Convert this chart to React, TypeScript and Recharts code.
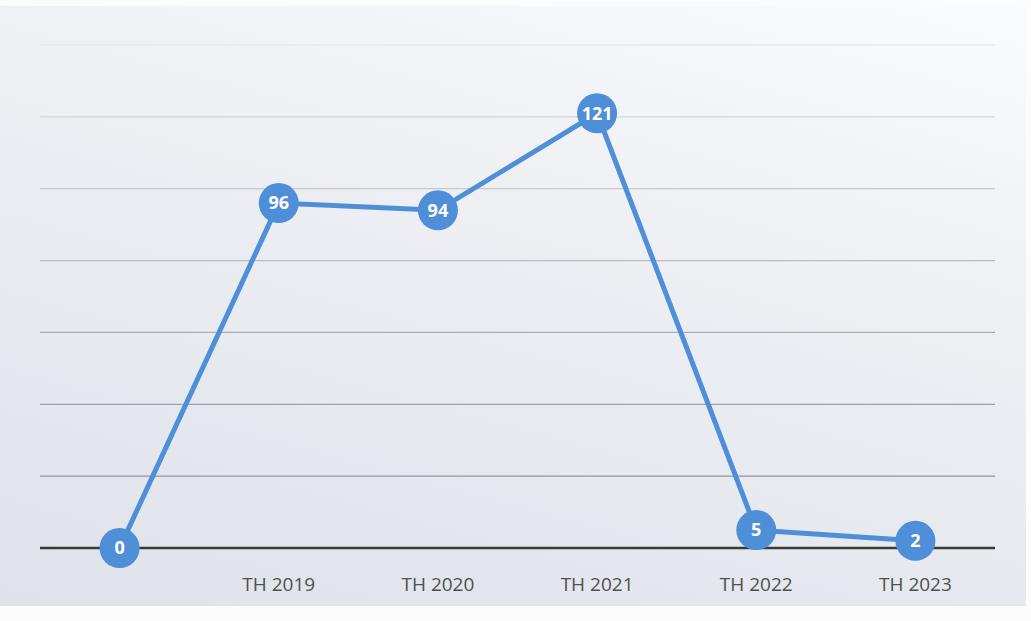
import { LineChart, Line, XAxis, YAxis, CartesianGrid, LabelList } from 'recharts'

const LINE = '#4e8fd8'

const years = ['', 'TH 2019', 'TH 2020', 'TH 2021', 'TH 2022', 'TH 2023']
const counts = [0, 96, 94, 121, 5, 2]
const yTicks = [0, 20, 40, 60, 80, 100, 120, 140]

const data = years.map((y, i) => ({ year: y, value: counts[i] }))

function Dot({ cx, cy }: { cx?: number; cy?: number }) {
  if (cx == null || cy == null) return null
  return <circle cx={cx} cy={cy} r={20} fill={LINE} />
}

export default function App() {
  return (
    <div style={{ position: 'absolute', left: 0, top: 0, width: 1031, height: 621, background: '#fcfcfd' }}>
      <div style={{ position: 'absolute', left: 0, top: 6, width: 1026, height: 600,
        background: 'linear-gradient(195deg, #fafbfc 0%, #eef0f4 35%, #e4e7ed 75%, #dfe2e9 100%)' }} />
      <div style={{ position: 'absolute', left: 0, top: 0 }}>
        <LineChart width={1031} height={621} data={data} margin={{ top: 45, right: 36, left: 40, bottom: 43 }}>
          <defs>
            <linearGradient id="gridFade" gradientUnits="userSpaceOnUse" x1="0" y1="40" x2="0" y2="550">
              <stop offset="0%" stopColor="#e2e4e9" />
              <stop offset="30%" stopColor="#c4c7cd" />
              <stop offset="100%" stopColor="#85888f" />
            </linearGradient>
          </defs>
          <CartesianGrid horizontal vertical={false} stroke="url(#gridFade)" strokeWidth={1.2} />
          <XAxis dataKey="year" scale="band" axisLine={{ stroke: '#3a3a3a', strokeWidth: 2.5 }} tickLine={false}
            tick={{ fontSize: 19, fill: '#505050', fontFamily: 'Open Sans, Liberation Sans, sans-serif' }} dy={22} />
          <YAxis hide domain={[0, 140]} ticks={yTicks} />
          <Line dataKey="value" stroke={LINE} strokeWidth={5} dot={<Dot />} activeDot={false} isAnimationActive={false}>
            <LabelList dataKey="value" position="center"
              style={{ fill: '#fff', fontSize: 18, fontWeight: 700, fontFamily: 'Open Sans, Liberation Sans, sans-serif' }} />
          </Line>
        </LineChart>
      </div>
    </div>
  )
}
